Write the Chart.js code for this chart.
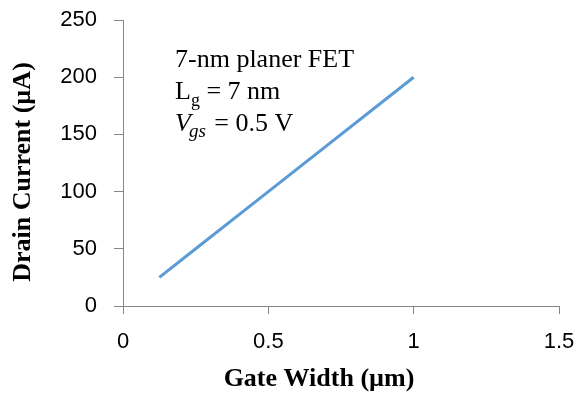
<!DOCTYPE html>
<html>
<head>
<meta charset="utf-8">
<script src="https://cdn.jsdelivr.net/npm/chart.js@4"></script>
<style>
  html, body { margin: 0; padding: 0; background: #fff; }
  #wrap { width: 576px; height: 394px; }
</style>
</head>
<body>
<div id="wrap"><canvas id="chart" width="576" height="394"></canvas></div>
<script>
// gate width in um, drain current in uA
const gateWidth = [0.125, 0.25, 0.5, 1];
const drainCurrent = [25, 50, 100, 200];
const xTicks = [0, 0.5, 1, 1.5];
const yTicks = [0, 50, 100, 150, 200, 250];

const axisGray = "#868686";

// titles and the text note in the plot
const textPlugin = {
    id: "texts",
    afterDraw(chart) {
        const ctx = chart.ctx;
        ctx.save();
        ctx.fillStyle = "#000";

        // x title
        ctx.font = "bold 26px 'Liberation Serif'";
        ctx.textAlign = "center";
        ctx.textBaseline = "alphabetic";
        ctx.fillText("Gate Width (µm)", 319, 386);

        // y title
        ctx.save();
        ctx.translate(30, 172);
        ctx.rotate(-Math.PI / 2);
        ctx.font = "bold 26px 'Liberation Serif'";
        ctx.fillText("Drain Current (µA)", 0, 0);
        ctx.restore();

        // note
        ctx.textAlign = "left";
        const x0 = 175;
        ctx.font = "26px 'Liberation Serif'";
        ctx.fillText("7-nm planer FET", x0, 67);

        ctx.fillText("L", x0, 99);
        let w = ctx.measureText("L").width;
        ctx.font = "18px 'Liberation Serif'";
        ctx.fillText("g", x0 + w, 106);
        w += ctx.measureText("g").width;
        ctx.font = "26px 'Liberation Serif'";
        ctx.fillText(" = 7 nm", x0 + w, 99);

        ctx.font = "italic 26px 'Liberation Serif'";
        ctx.fillText("V", x0, 131);
        w = ctx.measureText("V").width;
        ctx.font = "italic 19px 'Liberation Serif'";
        ctx.fillText("gs", x0 + w - 2, 137);
        w += ctx.measureText("gs").width;
        ctx.font = "26px 'Liberation Serif'";
        ctx.fillText(" = 0.5 V", x0 + w, 131);
        ctx.restore();
    }
};

new Chart(document.getElementById("chart"), {
    type: "line",
    data: {
        datasets: [{
            data: gateWidth.map((x, i) => ({ x: x, y: drainCurrent[i] })),
            borderColor: "#5B9BD5",
            borderWidth: 3,
            pointRadius: 0,
            tension: 0,
            fill: false
        }]
    },
    options: {
        responsive: false,
        animation: false,
        layout: { autoPadding: false, padding: { left: 0, right: 17, top: 20, bottom: 0 } },
        plugins: { legend: { display: false }, tooltip: { enabled: false } },
        scales: {
            x: {
                type: "linear",
                min: 0,
                max: 1.5,
                afterBuildTicks: s => { s.ticks = xTicks.map(v => ({ value: v })); },
                afterFit: s => { s.height = 88; s.paddingLeft = 0; s.paddingRight = 0; },
                border: { color: axisGray, width: 1 },
                grid: { drawOnChartArea: false, color: axisGray, tickLength: 8 },
                ticks: {
                    color: "#000",
                    padding: 15,
                    font: { family: "'Liberation Sans'", size: 22 },
                    maxRotation: 0,
                    callback: v => String(v)
                }
            },
            y: {
                min: 0,
                max: 250,
                afterBuildTicks: s => { s.ticks = yTicks.map(v => ({ value: v })); },
                afterFit: s => { s.width = 123; s.paddingTop = 0; s.paddingBottom = 0; },
                border: { color: axisGray, width: 1 },
                grid: { drawOnChartArea: false, color: axisGray, tickLength: 9 },
                ticks: {
                    color: "#000",
                    padding: 17,
                    font: { family: "'Liberation Sans'", size: 22 },
                    callback: v => String(v)
                }
            }
        }
    },
    plugins: [textPlugin]
});
</script>
</body>
</html>
